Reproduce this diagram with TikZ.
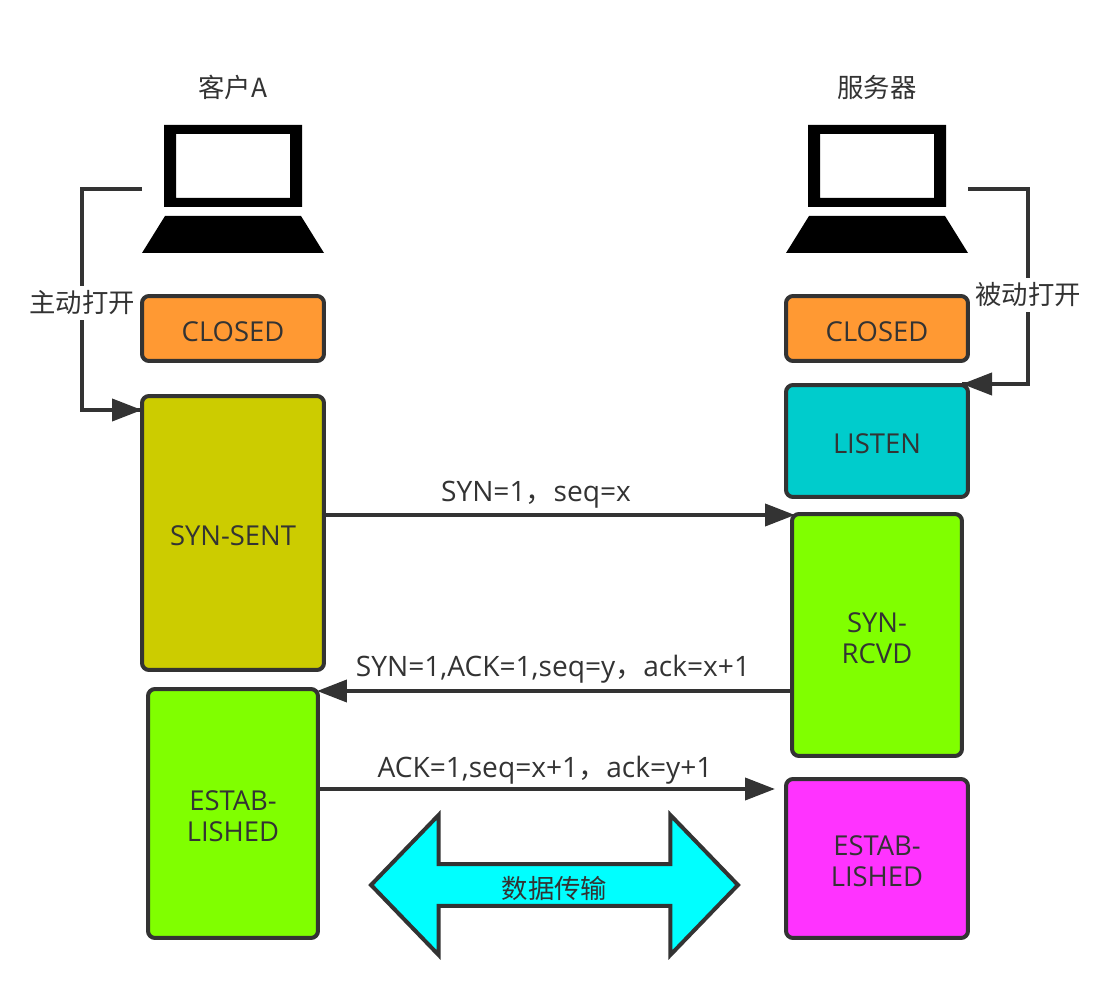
\documentclass[tikz,border=0pt]{standalone}
\usepackage{fontspec}
\setmainfont{Open Sans}
\newfontfamily\cjk{Noto Sans CJK SC}
\usepackage{xcolor}
\usepackage{tikz}
\usetikzlibrary{positioning,arrows.meta,shapes.arrows}
\definecolor{nInk}{HTML}{333333}
\definecolor{sOrange}{HTML}{FF9933}
\definecolor{sOlive}{HTML}{CCCC00}
\definecolor{sTeal}{HTML}{00CCCC}
\definecolor{sGreen}{HTML}{80FF00}
\definecolor{sMagenta}{HTML}{FF33FF}
\definecolor{sCyan}{HTML}{00FFFF}
\newcommand{\lowered}[1]{\raisebox{-1.8pt}[\height][\depth]{#1}}
\tikzset{
  statebox/.style={draw=nInk, line width=0.08cm, rounded corners=0.14cm, minimum width=3.64cm,
    inner sep=0pt, font=\fontsize{15.6}{17.6}\selectfont, text=nInk, align=center},
  narrowbox/.style={statebox, minimum width=3.4cm},
  link/.style={draw=nInk, line width=0.08cm, -{Triangle[length=0.6cm,width=0.44cm]}},
  plainlink/.style={draw=nInk, line width=0.08cm},
  msg/.style={font=\fontsize{16}{18}\selectfont, text=nInk, inner sep=0pt},
  captext/.style={font=\fontsize{15}{17}\selectfont\cjk, text=nInk, inner sep=1pt},
  openlabel/.style={captext, fill=white, minimum height=0.68cm},
}
\begin{document}
\begin{tikzpicture}[x=0.02cm,y=-0.02cm]
        \useasboundingbox (0,0) rectangle (1110,1003);
        % laptops
        \foreach \p in {233,877} {
          \begin{scope}[shift={(\p,0)}]
            \fill[black, even odd rule] (-69,125) rectangle (69,207) (-57,134) rectangle (57,198);
            \fill[black] (-68,216) -- (68,216) -- (91,253) -- (-91,253) -- cycle;
          \end{scope}
        }
        \node[captext] (clientname) at (233,87) {客户A};
        \node[captext] (servername) at (877,87) {服务器};
        % states
        \node[statebox, fill=sOrange, minimum height=1.3cm] (closedA) at (233,328.5) {\lowered{CLOSED}};
        \node[statebox, fill=sOlive, minimum height=5.48cm] (synsent) at (233,533) {\lowered{SYN-SENT}};
        \node[narrowbox, fill=sGreen, minimum height=4.98cm] (estabA) at (233,813.5) {\lowered{ESTAB-}\\\lowered{LISHED}};
        \node[statebox, fill=sOrange, minimum height=1.3cm] (closedB) at (877,328.5) {\lowered{CLOSED}};
        \node[statebox, fill=sTeal, minimum height=2.24cm] (listen) at (877,441) {\lowered{LISTEN}};
        \node[narrowbox, fill=sGreen, minimum height=4.84cm] (synrcvd) at (877,635) {\lowered{SYN-}\\\lowered{RCVD}};
        \node[statebox, fill=sMagenta, minimum height=3.18cm] (estabB) at (877,858.5) {\lowered{ESTAB-}\\\lowered{LISHED}};
        % open arrows
        \coordinate (portA) at (142,189);
        \coordinate (kneeA) at (82,189);
        \coordinate (footA) at (82,410);
        \coordinate (enterA) at (142,410);
        \draw[plainlink] (portA) -- (kneeA) -- (footA) -- (enterA);
        \draw[link] (footA) -- (enterA);
        \coordinate (portB) at (968,189);
        \coordinate (kneeB) at (1028,189);
        \coordinate (footB) at (1028,384);
        \coordinate (enterB) at (962,384);
        \draw[plainlink] (portB) -- (kneeB) -- (footB) -- (enterB);
        \draw[link] (footB) -- (enterB);
        \node[openlabel] (openA) at (82,303) {主动打开};
        \node[openlabel] (openB) at (1028,295) {被动打开};
        % handshake
        \coordinate (synIn) at (795,515);
        \coordinate (ackIn) at (317,691);
        \coordinate (finOut) at (775,789);
        \draw[link] (synsent.east |- synIn) -- (synIn);
        \draw[link] (synrcvd.west |- ackIn) -- (ackIn);
        \draw[link] (estabA.east |- finOut) -- (finOut);
        \node[msg] (msgone) at (536,495) {SYN=1{\cjk ，}seq=x};
        \node[msg] (msgtwo) at (553,669) {SYN=1,ACK=1,seq=y{\cjk ，}ack=x+1};
        \node[msg] (msgthree) at (545,770) {ACK=1,seq=x+1{\cjk ，}ack=y+1};
        % data
        \node[shape=double arrow, draw=nInk, fill=sCyan, line width=0.08cm, inner sep=0pt,
          minimum width=2.8cm, minimum height=7.34cm, double arrow head extend=0.75cm,
          double arrow tip angle=92, captext] (dataflow) at (554.5,885) {\lowered{数据传输}};
      \end{tikzpicture}
\end{document}
